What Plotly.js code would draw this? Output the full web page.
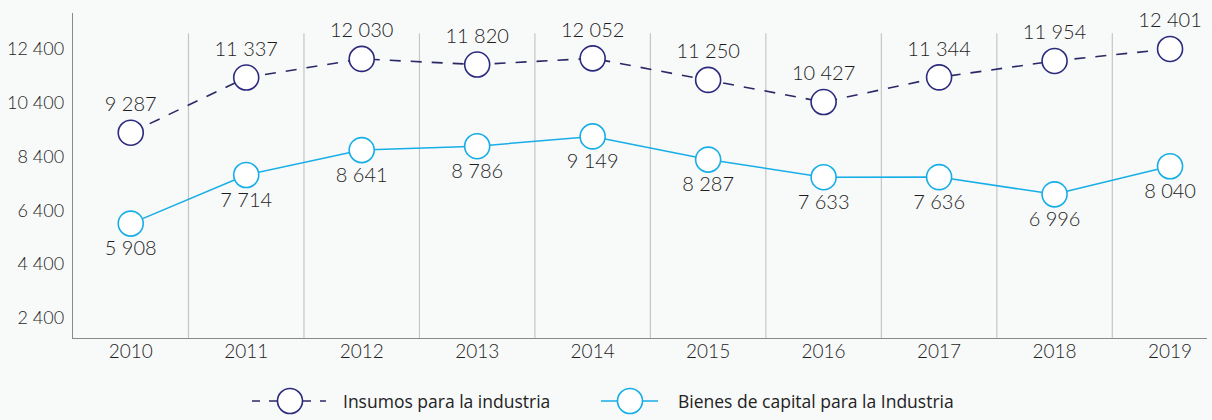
<!DOCTYPE html>
<html>
<head>
<meta charset="utf-8">
<script src="https://cdn.plot.ly/plotly-3.0.1.min.js"></script>
<style>
html,body{margin:0;padding:0;background:#f8f9f9;}
#chart{width:1212px;height:420px;}
</style>
</head>
<body>
<div id="chart"></div>
<script>
const years = ['2010','2011','2012','2013','2014','2015','2016','2017','2018','2019'];
const insumos = [9287, 11337, 12030, 11820, 12052, 11250, 10427, 11344, 11954, 12401];
const bienes = [5908, 7714, 8641, 8786, 9149, 8287, 7633, 7636, 6996, 8040];
const yTicks = [2400, 4400, 6400, 8400, 10400, 12400];
const seriesNames = ['Insumos para la industria', 'Bienes de capital para la Industria'];

function fmt(n){ return String(n).replace(/\B(?=(\d{3})+(?!\d))/g, ' '); }

const navy = '#2c2a7c';
const navyLine = '#2a2866';
const blue = '#16aee6';
const dashPat = '11px,10px';
const txtColor = '#1e1e1e';
const labelFont = {family: 'Lato, sans-serif', size: 20, color: txtColor, weight: 300};

const traces = [
  {
    x: years, y: insumos, name: seriesNames[0], type: 'scatter', mode: 'lines+markers+text',
    text: insumos.map(fmt), textposition: 'top center', textfont: labelFont,
    line: {color: navyLine, width: 1.6, dash: dashPat},
    marker: {symbol: 'circle', size: 25, color: '#ffffff', line: {color: navy, width: 1.6}},
    cliponaxis: false
  },
  {
    x: years, y: bienes, name: seriesNames[1], type: 'scatter', mode: 'lines+markers+text',
    text: bienes.map(fmt), textposition: 'bottom center', textfont: labelFont,
    line: {color: blue, width: 1.5},
    marker: {symbol: 'circle', size: 25, color: '#ffffff', line: {color: blue, width: 1.6}},
    cliponaxis: false
  }
];

// plot area geometry in px (for legend placement)
const plotL = 73, plotW = 1134, plotT = 13, plotH = 325;
const px2x = p => (p - plotL) / plotW;
const px2y = p => (plotT + plotH - p) / plotH;

const shapes = years.slice(1).map((y, i) => ({
  type: 'line', xref: 'x', yref: 'paper',
  x0: i + 0.5, x1: i + 0.5, y0: 0, y1: 0.938,
  line: {color: '#c6c6c6', width: 1.2}, layer: 'below'
}));

// custom legend (symbols as wide as the reference)
const legendY = 401;
const legendItems = [
  {name: seriesNames[0], color: navy, lcolor: navyLine, dash: '8px,9px', lx0: 252, lx1: 326, cx: 290, tx: 341},
  {name: seriesNames[1], color: blue, lcolor: blue, dash: 'solid', lx0: 601, lx1: 658, cx: 630, tx: 676}
];
const annotations = [];
legendItems.forEach(it => {
  shapes.push({
    type: 'line', xref: 'paper', yref: 'paper',
    x0: px2x(it.lx0), x1: px2x(it.lx1), y0: px2y(legendY), y1: px2y(legendY),
    line: {color: it.lcolor, width: 1.5, dash: it.dash}
  });
  shapes.push({
    type: 'circle', xref: 'paper', yref: 'paper',
    xsizemode: 'pixel', ysizemode: 'pixel',
    xanchor: px2x(it.cx), yanchor: px2y(legendY),
    x0: -12.5, x1: 12.5, y0: -12.5, y1: 12.5,
    fillcolor: '#ffffff', line: {color: it.color, width: 1.6}
  });
  annotations.push({
    xref: 'paper', yref: 'paper', x: px2x(it.tx), y: px2y(legendY),
    xanchor: 'left', yanchor: 'middle', showarrow: false, text: it.name,
    font: {family: '"Open Sans", sans-serif', size: 17.5, color: '#222222'}
  });
});

const layout = {
  width: 1212, height: 420,
  paper_bgcolor: '#f8f9f9', plot_bgcolor: '#f8f9f9',
  margin: {l: plotL, r: 1212 - plotL - plotW, t: plotT, b: 420 - plotT - plotH},
  font: {family: 'Lato, sans-serif', color: txtColor},
  showlegend: false,
  xaxis: {
    type: 'category', range: [-0.5, 9.32],
    showgrid: false, zeroline: false,
    showline: true, linecolor: '#8a8a8a', linewidth: 1.3,
    ticks: '', ticklabelstandoff: -4,
    tickfont: {family: 'Lato, sans-serif', size: 19, color: txtColor, weight: 300},
    fixedrange: true
  },
  yaxis: {
    range: [1655, 13737],
    tickvals: yTicks, ticktext: yTicks.map(fmt),
    showgrid: false, zeroline: false,
    showline: true, linecolor: '#8a8a8a', linewidth: 1.3,
    ticks: '', ticklabelstandoff: 4,
    tickfont: {family: 'Lato, sans-serif', size: 18, color: txtColor, weight: 300},
    fixedrange: true
  },
  shapes: shapes,
  annotations: annotations
};

Plotly.newPlot('chart', traces, layout, {displayModeBar: false, staticPlot: true});
</script>
</body>
</html>
